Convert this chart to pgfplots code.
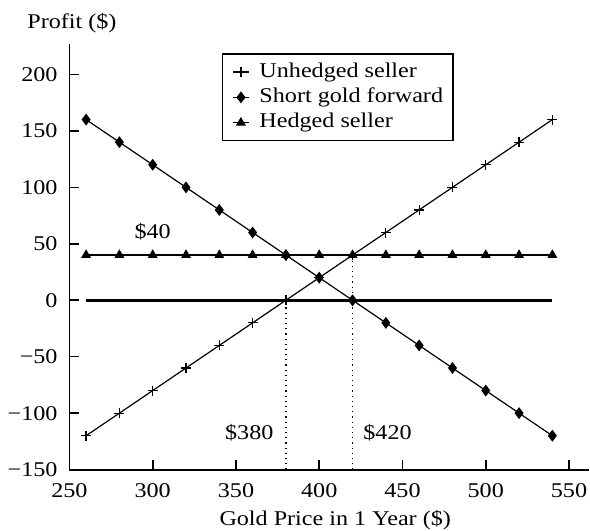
\documentclass[border=0pt]{standalone}
\usepackage{fontspec}
\setmainfont{Liberation Serif}[FakeStretch=1.15]
\usepackage{pgfplots}
\pgfplotsset{compat=1.18}

\begin{document}
\fontsize{10.5}{12.6}\selectfont
\begin{tikzpicture}
\path[use as bounding box] (-34.75pt,-30.5pt) rectangle (260.5pt,235pt);
\begin{axis}[
    scale only axis,
    width=260pt, height=213pt,
    xmin=250, xmax=562,
    ymin=-150, ymax=227,
    axis lines*=left,
    axis line style={line width=0.9pt},
    tick align=inside,
    major tick length=5pt,
    tick style={line width=0.8pt, black},
    xtick={250,300,...,550},
    ytick={-150,-100,...,200},
    yticklabels={−150,−100,−50,0,50,100,150,200},
    /pgf/number format/assume math mode=true,
    xticklabel style={anchor=base, yshift=-14pt},
    yticklabel style={anchor=east, inner xsep=0pt, xshift=-5.75pt},
    xlabel={Gold Price in 1 Year (\$)},
    ylabel={Profit (\$)},
    every axis x label/.style={at={(axis description cs:0.5,0)}, anchor=base, yshift=-28pt, xshift=3pt},
    every axis y label/.style={at={(axis description cs:0,1)}, anchor=base west, inner sep=0pt, xshift=-21.25pt, yshift=7.5pt},
    clip=false,
    legend cell align=left,
    legend style={at={(0.293,0.978)}, anchor=north west, draw=black, line width=0.7pt,
        inner xsep=5pt, inner ysep=4pt, row sep=2.7pt, column sep=5pt,
        nodes={inner sep=0pt, text height=7.5pt, text depth=2.5pt, anchor=west}},
    legend image code/.code={\draw[mark repeat=2,mark phase=2] plot coordinates {(0cm,0cm) (0.14cm,0cm) (0.28cm,0cm)};},
]
\addplot[black, line width=0.6pt, mark=+, mark size=2.5pt, mark options={line width=0.6pt}] coordinates {
    (260,-120) (280,-100) (300,-80) (320,-60) (340,-40) (360,-20) (380,0) (400,20)
    (420,40) (440,60) (460,80) (480,100) (500,120) (520,140) (540,160)
};
\addlegendentry{Unhedged seller}
\addplot[black, line width=0.6pt, mark=diamond*, mark size=2.5pt] coordinates {
    (260,160) (280,140) (300,120) (320,100) (340,80) (360,60) (380,40) (400,20)
    (420,0) (440,-20) (460,-40) (480,-60) (500,-80) (520,-100) (540,-120)
};
\addlegendentry{Short gold forward}
\addplot[black, line width=0.6pt, mark=triangle*, mark size=2.3pt] coordinates {
    (260,40) (280,40) (300,40) (320,40) (340,40) (360,40) (380,40) (400,40)
    (420,40) (440,40) (460,40) (480,40) (500,40) (520,40) (540,40)
};
\addlegendentry{Hedged seller}
\addplot[black, line width=1.4pt, forget plot] coordinates {(260,0) (540,0)};
\addplot[black, line width=0.6pt, dash pattern=on 0.6pt off 2pt, forget plot] coordinates {(380,-150) (380,0)};
\addplot[black, line width=0.6pt, dash pattern=on 0.6pt off 2pt, forget plot] coordinates {(420,-150) (420,40)};
\node[anchor=base] at (axis cs:300,54.4) {\$40};
\node[anchor=base] at (axis cs:358,-123.5) {\$380};
\node[anchor=base] at (axis cs:441,-123.5) {\$420};
\end{axis}
\end{tikzpicture}
\end{document}
